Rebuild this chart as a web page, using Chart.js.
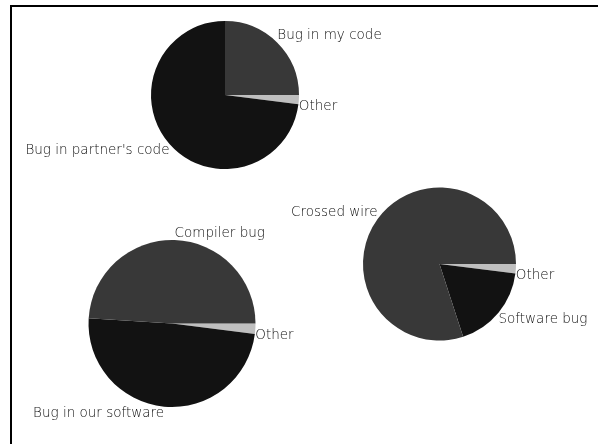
<!DOCTYPE html>
<html>
<head>
<meta charset="utf-8">
<script src="https://cdn.jsdelivr.net/npm/chart.js@4/dist/chart.umd.min.js"></script>
<style>
  html, body { margin: 0; padding: 0; background: #fff; }
  #wrap { position: relative; width: 598px; height: 444px; overflow: hidden; background: #fff; }
  #frame { position: absolute; left: 10px; top: 5px; width: 600px; height: 450px;
           border-top: 2px solid #000; border-left: 2px solid #000; box-sizing: border-box; }
  canvas { position: absolute; left: 0; top: 0; }
</style>
</head>
<body>
<div id="wrap">
  <div id="frame"></div>
  <canvas id="c1" width="598" height="444"></canvas>
  <canvas id="c2" width="598" height="444"></canvas>
  <canvas id="c3" width="598" height="444"></canvas>
</div>
<script>
// ---- data ----
const pie1Labels = ["Other", "Bug in partner's code", "Bug in my code"];
const pie1Values = [2, 73, 25];

const pie2Labels = ["Other", "Bug in our software", "Compiler bug"];
const pie2Values = [2, 49, 49];

const pie3Labels = ["Other", "Software bug", "Crossed wire"];
const pie3Values = [2, 18, 80];

// ---- styles ----
const sliceColors = ["#bfbfbf", "#121212", "#383838"];
const labelFont = "200 13.5px 'DejaVu Sans'";
const labelColor = "#111111";

const outsideLabels = {
  id: 'outsideLabels',
  afterDatasetsDraw(chart, args, opts) {
    const ctx = chart.ctx;
    const meta = chart.getDatasetMeta(0);
    const labels = chart.data.labels;
    ctx.save();
    ctx.font = labelFont;
    ctx.fillStyle = labelColor;
    meta.data.forEach((arc, i) => {
      const p = arc.getProps(['x', 'y', 'startAngle', 'endAngle', 'outerRadius'], true);
      const mid = (p.startAngle + p.endAngle) / 2;
      const cx = Math.cos(mid), sy = Math.sin(mid);
      const px = p.x + cx * p.outerRadius;
      const py = p.y + sy * p.outerRadius;
      ctx.textAlign = cx >= 0 ? 'left' : 'right';
      ctx.textBaseline = sy >= 0 ? 'top' : 'bottom';
      ctx.fillText(labels[i], px, py);
    });
    ctx.restore();
  }
};

function makePie(id, labels, values, pad) {
  return new Chart(document.getElementById(id), {
    type: 'pie',
    data: {
      labels: labels,
      datasets: [{ data: values, backgroundColor: sliceColors, borderWidth: 0 }]
    },
    options: {
      responsive: false,
      devicePixelRatio: 1,
      animation: false,
      rotation: 90,
      layout: { padding: pad },
      plugins: {
        legend: { display: false },
        tooltip: { enabled: false }
      }
    },
    plugins: [outsideLabels]
  });
}

// pie 1: center ~ (225,95), r ~ 74
makePie('c1', pie1Labels, pie1Values, { left: 151, right: 299, top: 21, bottom: 275 });
// pie 2: center ~ (172,323.5), r ~ 84
makePie('c2', pie2Labels, pie2Values, { left: 88, right: 342, top: 240, bottom: 37 });
// pie 3: center ~ (440,264.5), r ~ 77
makePie('c3', pie3Labels, pie3Values, { left: 363, right: 82, top: 187, bottom: 103 });
</script>
</body>
</html>
